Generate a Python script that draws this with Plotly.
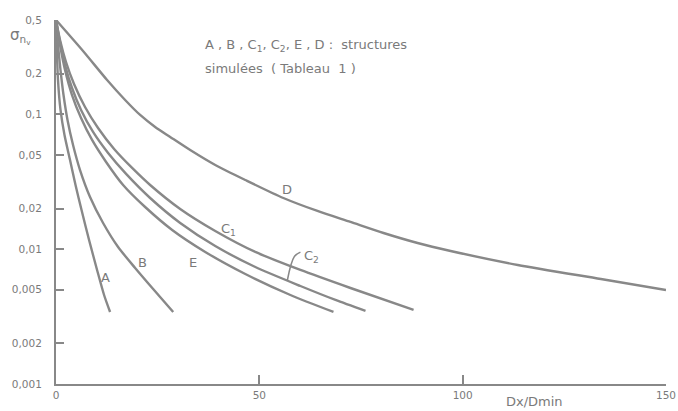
import math
import plotly.graph_objects as go

# Data (x = Dx/Dmin, y = sigma_nV, log scale)
A_x = [0, 0.2, 0.49, 1.11, 2.09, 3.45, 4.80, 6.28, 8.13, 10.10, 11.82, 13.30]
A_y = [0.5, 0.2996, 0.1795, 0.1076, 0.0702, 0.0458, 0.0299, 0.01951, 0.01169, 0.00701, 0.00457, 0.00342]

B_x = [0, 0.49, 1.11, 1.85, 2.83, 4.19, 5.91, 8.37, 11.58, 15.27, 19.46, 23.89, 28.82]
B_y = [0.5, 0.3262, 0.2129, 0.1389, 0.0907, 0.0592, 0.0386, 0.02436, 0.01563, 0.01037, 0.00725, 0.00506, 0.00342]

E_x = [0, 0.99, 2.22, 3.94, 6.16, 8.87, 12.32, 16.50, 21.92, 28.57, 36.70, 46.55, 57.64, 68.23]
E_y = [0.5, 0.3262, 0.2129, 0.1389, 0.0938, 0.0645, 0.0443, 0.0299, 0.02053, 0.01387, 0.00953, 0.00654, 0.00457, 0.00342]

C2_x = [0, 0.99, 2.22, 3.94, 6.16, 9.11, 12.81, 17.24, 23.15, 30.54, 39.16, 49.01, 60.10, 68.72, 76.11]
C2_y = [0.5, 0.3434, 0.2319, 0.1566, 0.1076, 0.0739, 0.0516, 0.0361, 0.02394, 0.01563, 0.01055, 0.00737, 0.00533, 0.0042, 0.00348]

C1_x = [0, 0.99, 2.46, 4.43, 7.14, 10.34, 14.29, 18.72, 23.15, 30.54, 39.16, 49.01, 60.10, 72.41, 87.93]
C1_y = [0.5, 0.3554, 0.2441, 0.1677, 0.1132, 0.0791, 0.0553, 0.0400, 0.0299, 0.01985, 0.01363, 0.00953, 0.00701, 0.00515, 0.00354]

D_x = [0, 6.65, 12.56, 17.0, 20.69, 24.38, 28.08, 33.0, 39.16, 46.55, 55.91, 64.29, 72.41,
       80.54, 88.92, 97.04, 113.55, 133.99, 150]
D_y = [0.5, 0.2945, 0.1795, 0.1276, 0.0988, 0.0805, 0.0679, 0.0543, 0.04206, 0.03256, 0.02394, 0.01918, 0.0159,
       0.01317, 0.0111, 0.00969, 0.00763, 0.00601, 0.00498]

# curve labels
label_text = ["A", "B", "E", "C<sub>1</sub>", "C<sub>2</sub>", "D"]
label_x = [12.07, 21.2, 33.7, 42.4, 62.8, 56.9]
label_y = [0.00611, 0.0079, 0.0079, 0.0140, 0.0088, 0.0275]

# leader line for C2 label
lead_x = [56.9, 58.6, 60.1]
lead_y = [0.0059, 0.0088, 0.0095]

y_tickvals = [0.5, 0.2, 0.1, 0.05, 0.02, 0.01, 0.005, 0.002, 0.001]
y_ticktext = ["0,5", "0,2", "0,1", "0,05", "0,02", "0,01", "0,005", "0,002", "0,001"]
x_tickvals = [0, 50, 100, 150]
x_ticktext = ["0", "50", "100", "150"]

LINE = "#888888"
TXT = "#7a7a7a"
FONT = "DejaVu Sans"

fig = go.Figure()
for xs, ys in [(A_x, A_y), (B_x, B_y), (E_x, E_y), (C2_x, C2_y), (C1_x, C1_y), (D_x, D_y)]:
    fig.add_trace(go.Scatter(x=xs, y=ys, mode="lines",
                             line=dict(color=LINE, width=2.4, shape="spline", smoothing=0.7),
                             hoverinfo="skip", showlegend=False))
fig.add_trace(go.Scatter(x=lead_x, y=lead_y, mode="lines",
                         line=dict(color=LINE, width=1.6, shape="spline"),
                         hoverinfo="skip", showlegend=False))

for t, x, y in zip(label_text, label_x, label_y):
    fig.add_annotation(x=x, y=math.log10(y), yref="y", xref="x", text=t, showarrow=False,
                       xanchor="center", yanchor="middle",
                       font=dict(family=FONT, size=13, color=TXT))

fig.add_annotation(x=-0.078, y=0.955, xref="paper", yref="paper", xanchor="left", yanchor="middle",
                   text="σ<sub>n<sub>v</sub></sub>", showarrow=False,
                   font=dict(family=FONT, size=15, color=TXT))
fig.add_annotation(x=0.241, y=0.931, xref="paper", yref="paper", xanchor="left", yanchor="middle",
                   text="A , B , C<sub>1</sub>, C<sub>2</sub>, E , D :  structures", showarrow=False,
                   font=dict(family=FONT, size=13, color=TXT))
fig.add_annotation(x=0.241, y=0.868, xref="paper", yref="paper", xanchor="left", yanchor="middle",
                   text="simulées  ( Tableau  1 )", showarrow=False,
                   font=dict(family=FONT, size=13, color=TXT))
fig.add_annotation(x=0.784, y=-0.049, xref="paper", yref="paper", xanchor="center", yanchor="middle",
                   text="Dx/Dmin", showarrow=False,
                   font=dict(family=FONT, size=13, color=TXT))

fig.update_layout(
    width=678, height=411,
    margin=dict(l=56, r=12, t=20, b=27),
    paper_bgcolor="white", plot_bgcolor="white",
    font=dict(family=FONT, size=10, color=TXT),
    xaxis=dict(range=[0, 150], tickvals=x_tickvals, ticktext=x_ticktext, automargin=False,
               showgrid=False, zeroline=False, showline=True, linecolor=LINE, linewidth=2,
               ticks="inside", ticklen=9, tickwidth=1.5, tickcolor=LINE,
               tickfont=dict(family=FONT, size=10.5, color=TXT)),
    yaxis=dict(type="log", range=[-3, -0.30103], tickvals=y_tickvals, ticktext=y_ticktext,
               automargin=False,
               showgrid=False, zeroline=False, showline=True, linecolor=LINE, linewidth=2,
               ticks="inside", ticklen=8, tickwidth=1.5, tickcolor=LINE,
               ticklabelstandoff=10,
               tickfont=dict(family=FONT, size=10.5, color=TXT)),
)

fig.write_html("out.html")
